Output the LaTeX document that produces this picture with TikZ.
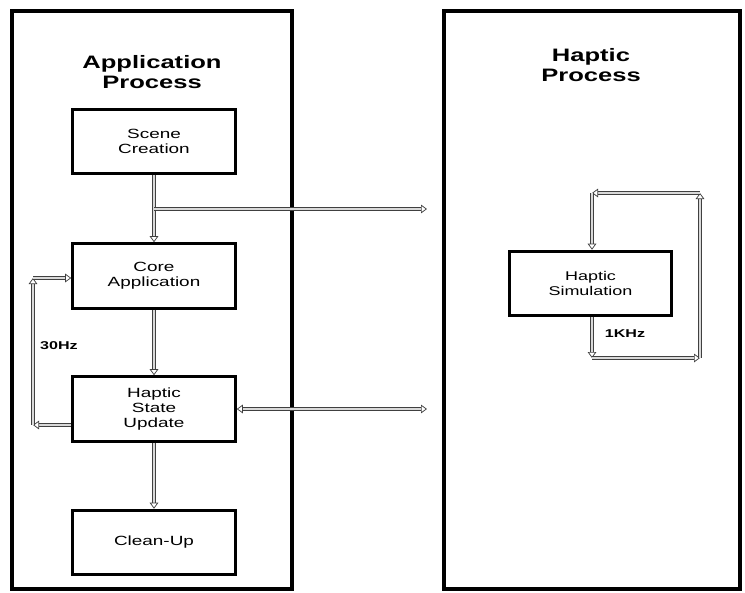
\documentclass[tikz,border=0pt]{standalone}
\usepackage{fontspec}
\setmainfont[FakeStretch=1.42]{Liberation Sans}
\usetikzlibrary{arrows.meta}
\tikzset{
  outer/.style={draw=black, line width=3pt},
  procbox/.style={draw=black, line width=2.2pt, minimum width=122pt, minimum height=48.5pt, align=center, font=\fontsize{10}{11}\selectfont, inner sep=0pt},
  title/.style={align=center, font=\fontsize{13.5}{15}\selectfont\bfseries},
  rate/.style={font=\fontsize{8.5}{10}\selectfont\bfseries},
  dbl/.style={draw=gray!50!black, line width=0.55pt, double=gray!30, double distance=1.8pt, -{Triangle[open,length=4.5pt,width=6.5pt]}},
  dblb/.style={dbl, {Triangle[open,length=4.5pt,width=6.5pt]}-{Triangle[open,length=4.5pt,width=6.5pt]}}
}
\begin{document}
\begin{tikzpicture}[x=0.75pt,y=-0.75pt]
\useasboundingbox (0,0) rectangle (745,592);
% outer process boxes
\node[outer, minimum width=210pt, minimum height=433pt, inner sep=0pt] (app) at (151.5,300) {};
\node[outer, minimum width=222pt, minimum height=433pt, inner sep=0pt] (hap) at (591.5,300) {};
% titles
\node[title] (apptitle) at (152,72) {Application\\Process};
\node[title] (haptitle) at (591,65) {Haptic\\Process};
% process boxes
\node[procbox] (scene) at (154,141.5) {Scene\\Creation};
\node[procbox] (core) at (154,276) {Core\\Application};
\node[procbox] (hsu) at (154,409) {Haptic\\State\\Update};
\node[procbox] (clean) at (154,542.5) {Clean-Up};
\node[procbox, minimum width=121pt, font=\fontsize{9.5}{11}\selectfont] (sim) at (590.5,283.5) {Haptic\\Simulation};
% coordinates
\coordinate (b1) at (154,209);
\coordinate (b2) at (427,209);
\coordinate (l1) at (33,425);
\coordinate (l2) at (33,278);
\coordinate (r1) at (427,409);
\coordinate (h1) at (592,358);
\coordinate (h2) at (700,358);
\coordinate (h3) at (700,193);
\coordinate (h4) at (592,193);
% connectors left
\draw[dbl] (scene) -- (core);
\draw[dbl] (b1) -- (b2);
\draw[dbl] (core) -- (hsu);
\draw[dbl] (hsu) -- (clean);
\draw[dbl] (hsu.west |- l1) -- (l1);
\draw[dbl] (l1) -- (l2);
\draw[dbl] (l2) -- (core.west |- l2);
\draw[dblb] (hsu.east |- r1) -- (r1);
% haptic loop
\draw[dbl] (sim.south -| h1) -- (h1);
\draw[dbl] (h1) -- (h2);
\draw[dbl] (h2) -- (h3);
\draw[dbl] (h3) -- (h4);
\draw[dbl] (h4) -- (sim.north -| h4);
% labels
\node[rate] (hz30) at (59,346) {30Hz};
\node[rate] (khz) at (625,334) {1KHz};
\end{tikzpicture}
\end{document}
